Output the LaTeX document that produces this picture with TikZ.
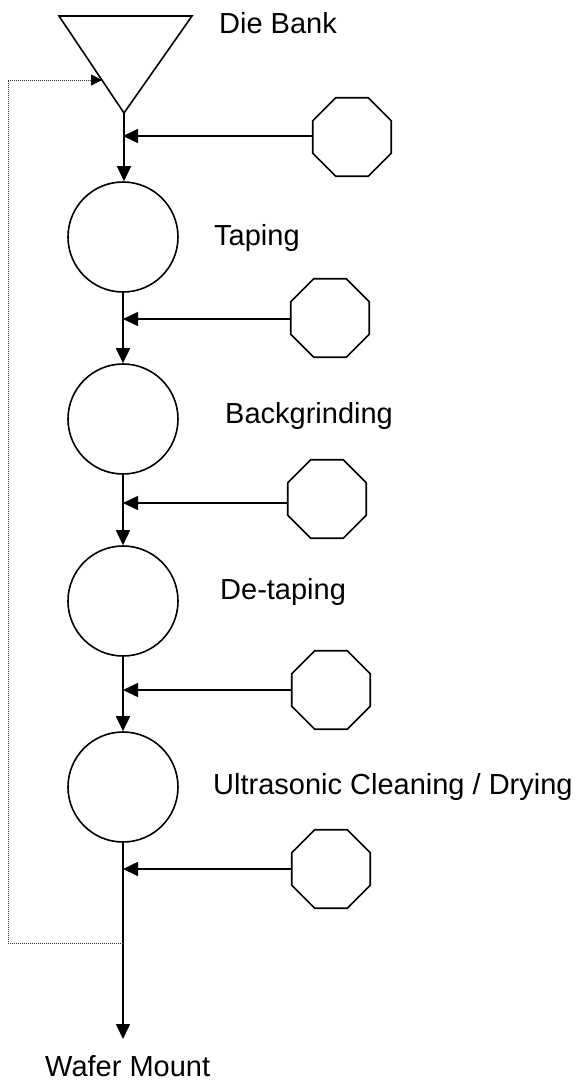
\documentclass[tikz,border=0pt]{standalone}
\usepackage{fontspec}
\setmainfont{Liberation Sans}
\usetikzlibrary{arrows.meta,shapes.geometric}
\tikzset{
  proc/.style={circle,draw,line width=1.6pt,minimum size=110pt,inner sep=0pt},
  octo/.style={regular polygon,regular polygon sides=8,draw,line width=1.6pt,minimum size=85pt,inner sep=0pt},
  lbl/.style={anchor=base west,inner sep=0pt,font=\fontsize{29}{34}\selectfont},
  arr/.style={line width=1.6pt,-{Triangle[length=15pt,width=14pt]}},
  dotline/.style={line width=1pt,densely dotted,black!80},
}
\begin{document}
\begin{tikzpicture}[x=1pt,y=-1pt]
\useasboundingbox (0,0) rectangle (582,1082);
% Die Bank triangle
\coordinate (tl) at (59,16);
\coordinate (tr) at (192,16);
\coordinate (tip) at (124,113);
\draw[line width=1.6pt,line join=miter] (tl) -- (tr) -- (tip) -- cycle;
\node[lbl] (ldb) at (219,33) {Die Bank};
% process circles
\node[proc] (c1) at (123,237) {};
\node[proc] (c2) at (123,419) {};
\node[proc] (c3) at (123,601) {};
\node[proc] (c4) at (123,787) {};
\node[lbl] (l1) at (214,245) {Taping};
\node[lbl] (l2) at (225,423) {Backgrinding};
\node[lbl] (l3) at (220,599) {De-taping};
\node[lbl] (l4) at (213,794) {Ultrasonic Cleaning / Drying};
\node[lbl] (l5) at (45,1076) {Wafer Mount};
% octagons
\node[octo] (o1) at (352,137) {};
\node[octo] (o2) at (330,318) {};
\node[octo] (o3) at (327,499) {};
\node[octo] (o4) at (331,690) {};
\node[octo] (o5) at (331,869) {};
% junction points on the main line
\coordinate (j1) at (123,136);
\coordinate (j2) at (123,319);
\coordinate (j3) at (123,503);
\coordinate (j4) at (123,690);
\coordinate (j5) at (123,869);
\coordinate (wm) at (123,1039);
% main flow
\draw[arr] (tip) -- (tip |- c1.north);
\draw[arr] (c1.south) -- (c2.north);
\draw[arr] (c2.south) -- (c3.north);
\draw[arr] (c3.south) -- (c4.north);
\draw[arr] (c4.south) -- (wm);
% side inputs
\draw[arr] (o1.west |- j1) -- (j1);
\draw[arr] (o2.west |- j2) -- (j2);
\draw[arr] (o3.west |- j3) -- (j3);
\draw[arr] (o4.west |- j4) -- (j4);
\draw[arr] (o5.west |- j5) -- (j5);
% dotted return loop
\coordinate (db) at (123,943);
\coordinate (dbl) at (8,943);
\coordinate (dtl) at (8,80);
\coordinate (din) at (102,80);
\draw[dotline] (db) -- (dbl) -- (dtl) -- (din);
\draw[-{Triangle[length=11pt,width=11pt]},line width=1pt] ([xshift=-2pt]din) -- (din);
\end{tikzpicture}
\end{document}
